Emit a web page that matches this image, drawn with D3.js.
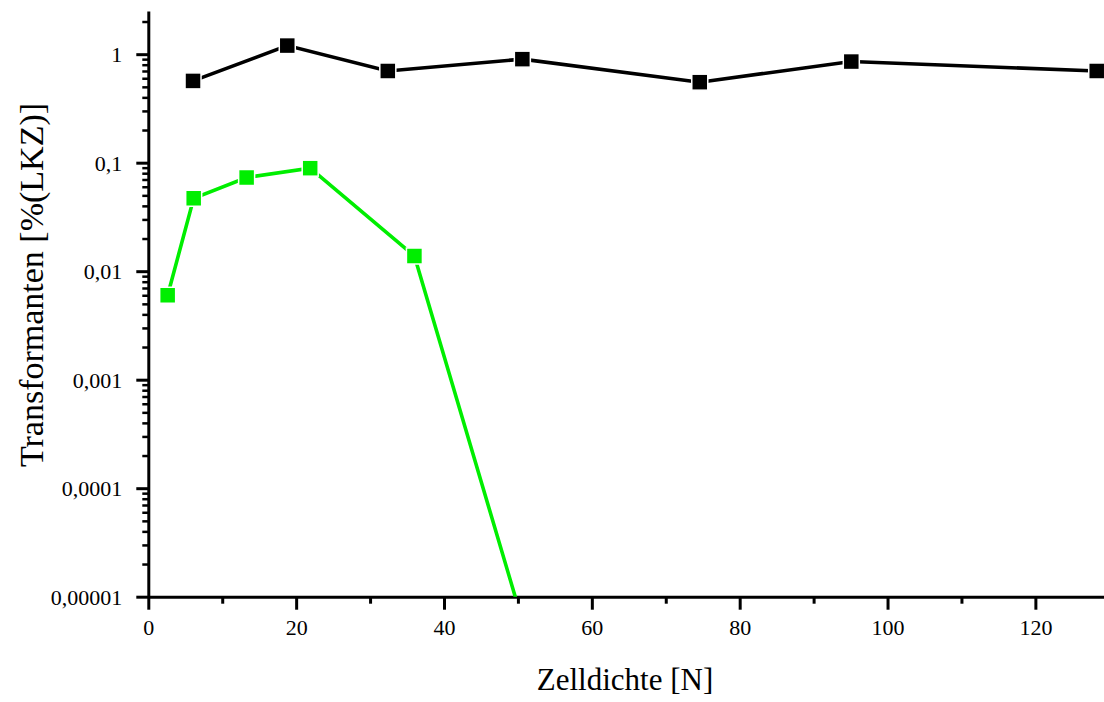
<!DOCTYPE html>
<html>
<head>
<meta charset="utf-8">
<script src="https://cdn.jsdelivr.net/npm/d3@7"></script>
<style>
  body { margin: 0; background: #fff; }
  svg { display: block; }
</style>
</head>
<body>
<svg id="chart"></svg>
<script>
const width = 1104, height = 702;
const serif = '"Liberation Serif", "Times New Roman", Times, serif';

// Zelldichte values and Transformanten [% LKZ]
const blackX = [6.05, 18.8, 32.4, 50.6, 74.6, 95.1, 128.3];
const blackY = [0.567, 1.2, 0.70, 0.90, 0.552, 0.855, 0.70];
const greenX = [2.62, 6.14, 13.3, 21.9, 36.0, 50.6];
const greenY = [0.006, 0.047, 0.073, 0.089, 0.0138, 0.000006];

const xTicks = [0, 20, 40, 60, 80, 100, 120];
const xMinor = [10, 30, 50, 70, 90, 110, 130];
const yTicks = [1, 0.1, 0.01, 0.001, 0.0001, 0.00001];
const yTickLabels = ["1", "0,1", "0,01", "0,001", "0,0001", "0,00001"];

const svg = d3.select("#chart").attr("width", width).attr("height", height);

const x = d3.scaleLinear().domain([0, 130]).range([148.3, 1109.3]);
const y = d3.scaleLog().domain([0.00001, 2.5]).range([596.7, 11]);

// minor ticks on the log axis: 2..9 per decade
let yMinor = [];
for (let e = -5; e <= 0; e++) {
  for (let m = 2; m <= 9; m++) {
    const v = m * Math.pow(10, e);
    if (v <= 2.5) yMinor.push(v);
  }
}

svg.append("defs").append("clipPath").attr("id", "plotClip")
  .append("rect").attr("x", x(0)).attr("y", 0)
  .attr("width", width - x(0)).attr("height", y(0.00001));

// minor ticks
svg.append("g")
  .attr("transform", `translate(${x(0)},0)`)
  .call(d3.axisLeft(y).tickValues(yMinor).tickSize(6).tickSizeOuter(0).tickFormat(""))
  .call(g => g.select(".domain").remove())
  .selectAll("line").attr("stroke", "#000").attr("stroke-width", 2.5);

svg.append("g")
  .attr("transform", `translate(0,${y(0.00001)})`)
  .call(d3.axisBottom(x).tickValues(xMinor).tickSize(7).tickSizeOuter(0).tickFormat(""))
  .call(g => g.select(".domain").remove())
  .selectAll("line").attr("stroke", "#000").attr("stroke-width", 3);

function styleAxis(g) {
  g.select(".domain").attr("stroke", "#000").attr("stroke-width", 3);
  g.selectAll(".tick line").attr("stroke", "#000").attr("stroke-width", 3);
  g.selectAll(".tick text")
    .attr("fill", "#000")
    .style("font-family", serif)
    .style("font-size", "22px");
}

// major axes
const yAxis = svg.append("g")
  .attr("transform", `translate(${x(0)},0)`)
  .call(d3.axisLeft(y).tickValues(yTicks).tickSize(12).tickSizeOuter(0).tickPadding(14)
    .tickFormat((d, i) => yTickLabels[i]));
styleAxis(yAxis);
yAxis.selectAll(".tick text").attr("dy", "0.35em");

const xAxis = svg.append("g")
  .attr("transform", `translate(0,${y(0.00001)})`)
  .call(d3.axisBottom(x).tickValues(xTicks).tickSize(13).tickSizeOuter(0).tickPadding(10));
styleAxis(xAxis);

// series
const plot = svg.append("g").attr("clip-path", "url(#plotClip)");
const line = d3.line().x(d => x(d[0])).y(d => y(d[1]));

function drawSeries(xs, ys, color) {
  const pts = xs.map((v, i) => [v, ys[i]]);
  plot.append("path").datum(pts)
    .attr("d", line)
    .attr("fill", "none")
    .attr("stroke", color)
    .attr("stroke-width", 3.6);
  const s = 16;
  plot.selectAll(null).data(pts).enter().append("rect")
    .attr("x", d => x(d[0]) - s / 2)
    .attr("y", d => y(d[1]) - s / 2)
    .attr("width", s).attr("height", s)
    .attr("fill", color)
    .attr("stroke", "#fff")
    .attr("stroke-width", 1.5);
}
drawSeries(blackX, blackY, "#000");
drawSeries(greenX, greenY, "#00ee00");

// axis titles
svg.append("text")
  .attr("x", 625).attr("y", 690)
  .attr("text-anchor", "middle")
  .attr("fill", "#000")
  .style("font-family", serif)
  .style("font-size", "31px")
  .text("Zelldichte [N]");

svg.append("text")
  .attr("transform", "translate(43,285) rotate(-90)")
  .attr("text-anchor", "middle")
  .attr("fill", "#000")
  .style("font-family", serif)
  .style("font-size", "34px")
  .text("Transformanten [%(LKZ)]");
</script>
</body>
</html>
